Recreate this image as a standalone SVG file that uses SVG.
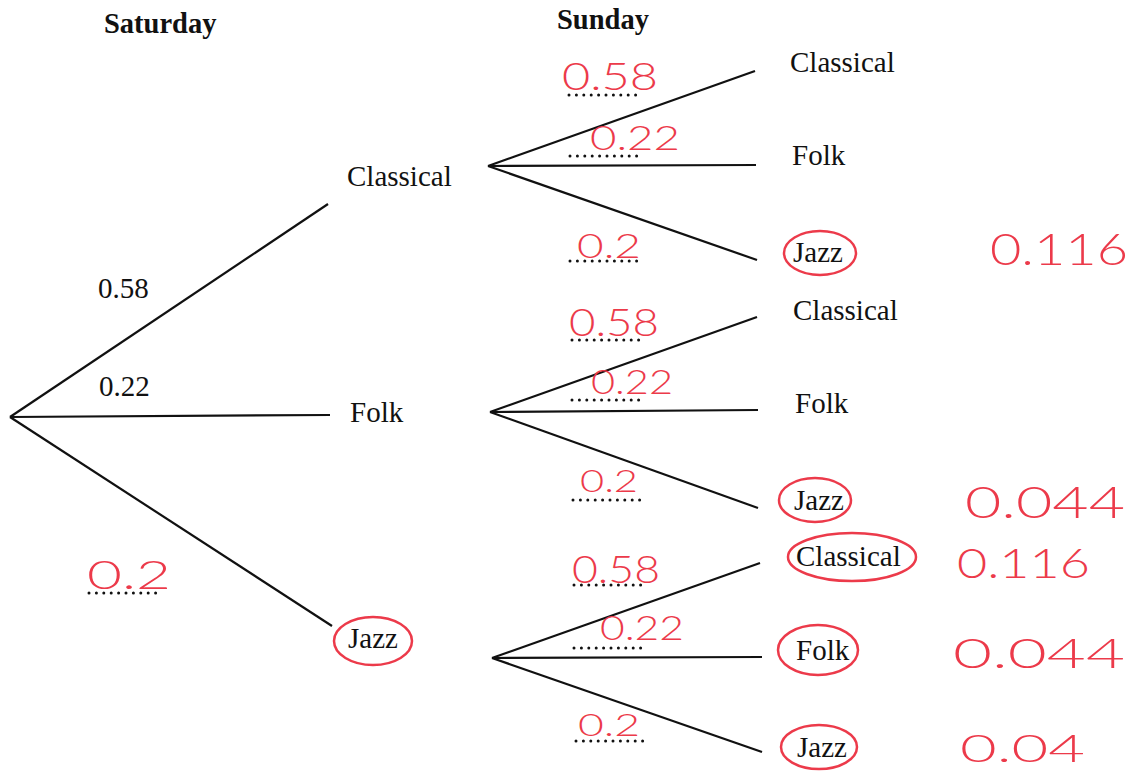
<svg xmlns="http://www.w3.org/2000/svg" width="1134" height="771" viewBox="0 0 1134 771">
<style>
.lbl{font-family:"Liberation Serif","Times New Roman",serif;font-size:29px;fill:#111}
.hd{font-family:"Liberation Serif","Times New Roman",serif;font-size:28.5px;font-weight:bold;fill:#111}
.red{font-family:Lato,"Open Sans","Liberation Sans",sans-serif;font-weight:300;fill:#ec3a4a}
.ring{fill:none;stroke:#ec3a4a;stroke-width:2.5}
.br{stroke:#111;stroke-width:2.2;fill:none}
.dots{stroke:#111;stroke-width:3;stroke-linecap:round;stroke-dasharray:0 7.4;fill:none}
</style>
<rect width="1134" height="771" fill="#fff"/>
<g id="headers">
<text class="hd" x="104" y="33">Saturday</text>
<text class="hd" x="557" y="29">Sunday</text>
</g>
<g id="connectors">
<line class="br" x1="10" y1="417" x2="328" y2="204"/>
<line class="br" x1="10" y1="417" x2="330" y2="415"/>
<line class="br" x1="10" y1="417" x2="332" y2="626"/>
<line class="br" x1="488" y1="166" x2="755" y2="71"/>
<line class="br" x1="488" y1="166" x2="756" y2="165"/>
<line class="br" x1="488" y1="166" x2="757" y2="260"/>
<line class="br" x1="490" y1="412" x2="757" y2="317"/>
<line class="br" x1="490" y1="412" x2="758" y2="410"/>
<line class="br" x1="490" y1="412" x2="758" y2="508"/>
<line class="br" x1="492" y1="658" x2="760" y2="563"/>
<line class="br" x1="492" y1="658" x2="762" y2="657"/>
<line class="br" x1="492" y1="658" x2="762" y2="752"/>
</g>
<g id="sat-probs">
<text class="lbl" x="98" y="298">0.58</text>
<text class="lbl" x="99" y="396">0.22</text>
<text class="red" x="87" y="589" font-size="40" textLength="84" lengthAdjust="spacingAndGlyphs">0.2</text>
<line class="dots" x1="89" y1="593" x2="163" y2="593"/>
</g>
<g id="n-classical"><text class="lbl" x="347" y="186">Classical</text></g>
<g id="n-folk"><text class="lbl" x="350" y="422">Folk</text></g>
<g id="n-jazz">
<ellipse class="ring" cx="373" cy="641" rx="39" ry="24"/>
<text class="lbl" x="348" y="648">Jazz</text>
</g>
<g id="n-cc"><text class="lbl" x="790" y="72">Classical</text></g>
<g id="n-cf"><text class="lbl" x="792" y="165">Folk</text></g>
<g id="n-cj">
<ellipse class="ring" cx="820" cy="253" rx="36" ry="22"/>
<text class="lbl" x="793" y="262">Jazz</text>
</g>
<g id="n-fc"><text class="lbl" x="793" y="320">Classical</text></g>
<g id="n-ff"><text class="lbl" x="795" y="413">Folk</text></g>
<g id="n-fj">
<ellipse class="ring" cx="815" cy="500" rx="36" ry="22"/>
<text class="lbl" x="794" y="510">Jazz</text>
</g>
<g id="n-jc">
<ellipse class="ring" cx="852" cy="557" rx="64" ry="24"/>
<text class="lbl" x="796" y="566">Classical</text>
</g>
<g id="n-jf">
<ellipse class="ring" cx="818" cy="650" rx="40" ry="25"/>
<text class="lbl" x="796" y="660">Folk</text>
</g>
<g id="n-jj">
<ellipse class="ring" cx="819" cy="747" rx="38" ry="22"/>
<text class="lbl" x="797" y="757">Jazz</text>
</g>
<g id="sun-probs">
<text class="red" x="562" y="90" font-size="38" textLength="96" lengthAdjust="spacingAndGlyphs">0.58</text>
<line class="dots" x1="569" y1="95" x2="643" y2="95"/>
<text class="red" x="590" y="150" font-size="34" textLength="90" lengthAdjust="spacingAndGlyphs">0.22</text>
<line class="dots" x1="570" y1="156" x2="644" y2="156"/>
<text class="red" x="577" y="258" font-size="34" textLength="64" lengthAdjust="spacingAndGlyphs">0.2</text>
<line class="dots" x1="570" y1="261" x2="644" y2="261"/>

<text class="red" x="569" y="336" font-size="38" textLength="90" lengthAdjust="spacingAndGlyphs">0.58</text>
<line class="dots" x1="572" y1="340" x2="646" y2="340"/>
<text class="red" x="591" y="394" font-size="34" textLength="82" lengthAdjust="spacingAndGlyphs">0.22</text>
<line class="dots" x1="572" y1="400" x2="646" y2="400"/>
<text class="red" x="580" y="492" font-size="32" textLength="58" lengthAdjust="spacingAndGlyphs">0.2</text>
<line class="dots" x1="573" y1="500" x2="647" y2="500"/>

<text class="red" x="572" y="583" font-size="38" textLength="88" lengthAdjust="spacingAndGlyphs">0.58</text>
<line class="dots" x1="574" y1="585" x2="648" y2="585"/>
<text class="red" x="600" y="640" font-size="34" textLength="84" lengthAdjust="spacingAndGlyphs">0.22</text>
<line class="dots" x1="574" y1="648" x2="648" y2="648"/>
<text class="red" x="578" y="736" font-size="32" textLength="62" lengthAdjust="spacingAndGlyphs">0.2</text>
<line class="dots" x1="576" y1="741" x2="650" y2="741"/>
</g>
<g id="results">
<text class="red" x="990" y="265" font-size="44" textLength="138" lengthAdjust="spacingAndGlyphs">0.116</text>
<text class="red" x="965" y="518" font-size="44" textLength="160" lengthAdjust="spacingAndGlyphs">0.044</text>
<text class="red" x="957" y="578" font-size="42" textLength="133" lengthAdjust="spacingAndGlyphs">0.116</text>
<text class="red" x="953" y="668" font-size="42" textLength="172" lengthAdjust="spacingAndGlyphs">0.044</text>
<text class="red" x="960" y="762" font-size="38" textLength="125" lengthAdjust="spacingAndGlyphs">0.04</text>
</g>
</svg>
